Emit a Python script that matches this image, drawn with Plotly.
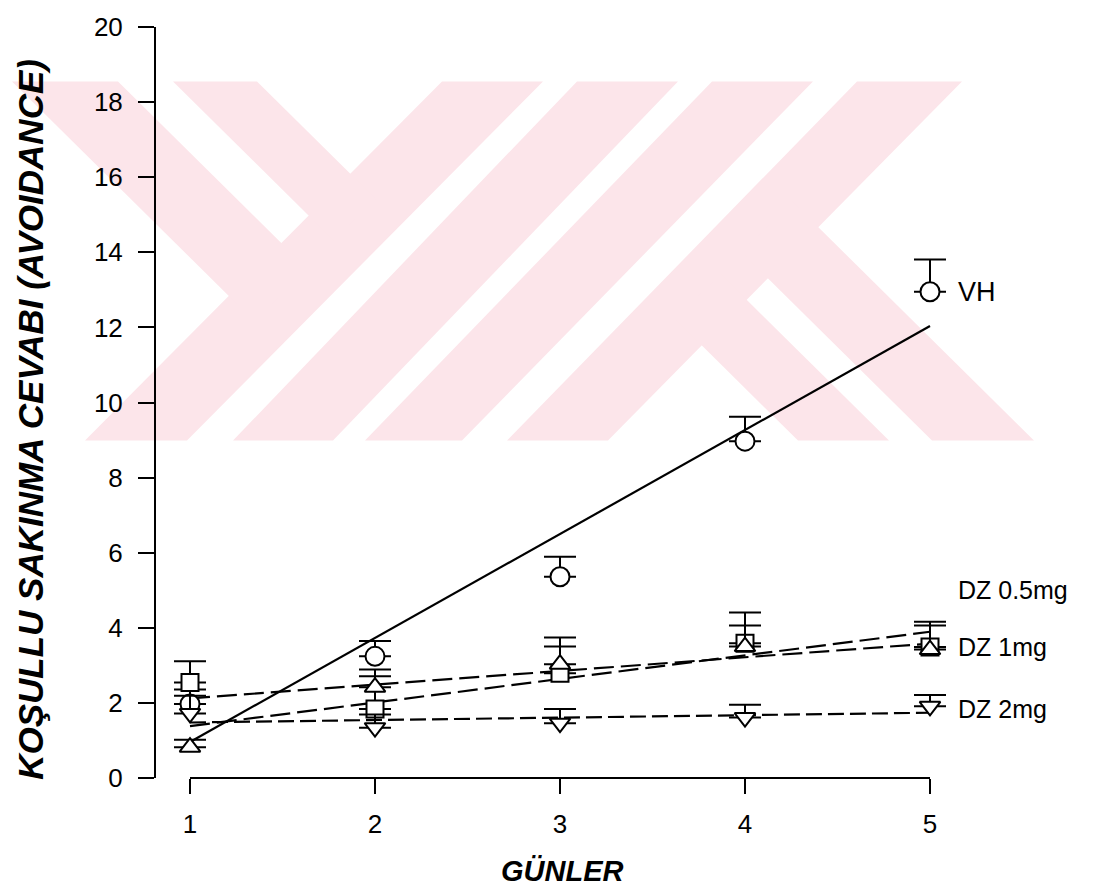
import numpy as np
import plotly.graph_objects as go

# ---------------- data ----------------
days = [1, 2, 3, 4, 5]
vh = [1.97, 3.24, 5.36, 8.97, 12.95]
vh_err = [0.39, 0.41, 0.53, 0.65, 0.86]
dz05 = [2.54, 1.84, 2.79, 3.59, 3.49]
dz05_err = [0.57, 0.87, 0.95, 0.82, 0.67]
dz1 = [0.82, 2.42, 3.03, 3.50, 3.42]
dz1_err = [0.20, 0.47, 0.47, 0.56, 0.64]
dz2 = [1.72, 1.34, 1.46, 1.61, 1.91]
dz2_err = [0.47, 0.35, 0.38, 0.34, 0.30]

x_ticks = [1, 2, 3, 4, 5]
y_ticks = list(range(0, 21, 2))
labels = {"VH": 12.95, "DZ 0.5mg": 5.0, "DZ 1mg": 3.48, "DZ 2mg": 1.85}

# ---------------- layout geometry ----------------
W, H = 1094, 890
L, R, T, B = 155, 34, 19, 112
PW, PH = W - L - R, H - T - B
XR = [1 - 35 / 185.0, 5 + 130 / 185.0]


def px2paper(px, py):
    return (px - L) / PW, (H - B - py) / PH


# watermark (background decoration) in pixel space
YT, YB = 74, 437
PINK = "#fce5ea"


def slash(top0, top1, bot0, bot1):
    return [(top0, YT), (top1, YT), (bot1, YB), (bot0, YB)]


def back_stripe(d0, d1, cut_top, cut_bot, start_top=True):
    # "\" stripe with x - y in [d0, d1]; cut by a "/" line given by two points
    def inter(d):
        (x0, y0), (x1, y1) = cut_top, cut_bot
        k = (x1 - x0) / (y1 - y0)
        y = (x0 - k * y0 - d) / (1 - k)
        return (d + y, y)
    if start_top:
        return [(d0 + YT, YT), (d1 + YT, YT), inter(d1), inter(d0)]
    return [inter(d0), inter(d1), (d1 + YB, YB), (d0 + YB, YB)]


polys = [
    slash(442, 543, 85, 187),
    slash(577, 678, 233, 333),
    slash(712, 813, 365, 462),
    slash(857, 962, 507, 608),
]
s1_mid = ((492, YT), (136, YB))
s4_mid = ((909, YT), (557, YB))
polys.append(back_stripe(-62, 44, *s1_mid, start_top=True))
polys.append(back_stripe(99, 183, *s1_mid, start_top=True))
polys.append(back_stripe(361, 452, *s4_mid, start_top=False))
polys.append(back_stripe(495, 597, *s4_mid, start_top=False))

shapes = []
for poly in polys:
    pts = [px2paper(x, y) for x, y in poly]
    path = "M " + " L ".join(f"{a:.5f},{b:.5f}" for a, b in pts) + " Z"
    shapes.append(dict(type="path", path=path, xref="paper", yref="paper",
                       fillcolor=PINK, line=dict(width=0), layer="below"))

# axis lines (offset SigmaPlot style)
shapes.append(dict(type="line", xref="paper", yref="y", x0=0, x1=0, y0=0, y1=20,
                   line=dict(color="black", width=2)))
shapes.append(dict(type="line", xref="x", yref="paper", x0=x_ticks[0], x1=x_ticks[-1],
                   y0=0, y1=0, line=dict(color="black", width=2)))

fig = go.Figure()

# regression lines
dx = np.array(days, dtype=float)
line_specs = [
    (vh, "solid"),
    (dz05, "20px,7px"),
    (dz1, "20px,7px"),
    (dz2, "16px,6px"),
]
for ys, dash in line_specs:
    m, c = np.polyfit(dx, np.array(ys), 1)
    xs = [days[0], days[-1]]
    fig.add_trace(go.Scatter(x=xs, y=[m * v + c for v in xs], mode="lines",
                             line=dict(color="black", width=2.2, dash=dash),
                             showlegend=False, hoverinfo="skip", cliponaxis=False))

series = [
    (vh, vh_err, "circle", 19),
    (dz05, dz05_err, "square", 17),
    (dz1, dz1_err, "triangle-up", 18),
    (dz2, dz2_err, "triangle-down", 18),
]
for ys, err, sym, size in series:
    fig.add_trace(go.Scatter(
        x=days, y=ys, mode="markers",
        marker=dict(symbol=sym, size=size, color="white",
                    line=dict(color="black", width=2)),
        error_y=dict(type="data", symmetric=False, array=err,
                     arrayminus=[0] * len(err), color="black",
                     thickness=2, width=16),
        showlegend=False, cliponaxis=False))

font_reg = dict(family="Liberation Sans, Arial, sans-serif", color="black")
annotations = []
for txt, yv in labels.items():
    annotations.append(dict(x=days[-1], y=yv, xref="x", yref="y", text=txt,
                            xanchor="left", yanchor="middle", xshift=26,
                            showarrow=False,
                            font=dict(size=27 if txt == "VH" else 25, **font_reg)))

tx, ty = px2paper(31, 416)
annotations.append(dict(x=tx, y=ty, xref="paper", yref="paper",
                        text="KOŞULLU SAKINMA CEVABI (AVOIDANCE)", textangle=-90,
                        showarrow=False, xanchor="center", yanchor="middle",
                        font=dict(size=35, weight="bold", style="italic", **font_reg)))
gx, gy = px2paper(562, 872)
annotations.append(dict(x=gx, y=gy, xref="paper", yref="paper", text="GÜNLER",
                        showarrow=False, xanchor="center", yanchor="middle",
                        font=dict(size=29, weight="bold", style="italic", **font_reg)))

fig.update_layout(
    width=W, height=H,
    margin=dict(l=L, r=R, t=T, b=B, pad=0),
    paper_bgcolor="white", plot_bgcolor="rgba(0,0,0,0)",
    shapes=shapes, annotations=annotations,
    xaxis=dict(range=XR, tickvals=x_ticks, ticks="outside", ticklen=15, tickwidth=2,
               tickcolor="black", showline=False, showgrid=False, zeroline=False,
               tickfont=dict(size=26, **font_reg), ticklabelstandoff=8),
    yaxis=dict(range=[0, 20], tickvals=y_ticks, ticks="outside", ticklen=16, tickwidth=2,
               tickcolor="black", showline=False, showgrid=False, zeroline=False,
               tickfont=dict(size=26, **font_reg), ticklabelstandoff=10),
)

fig.write_html("out.html")
